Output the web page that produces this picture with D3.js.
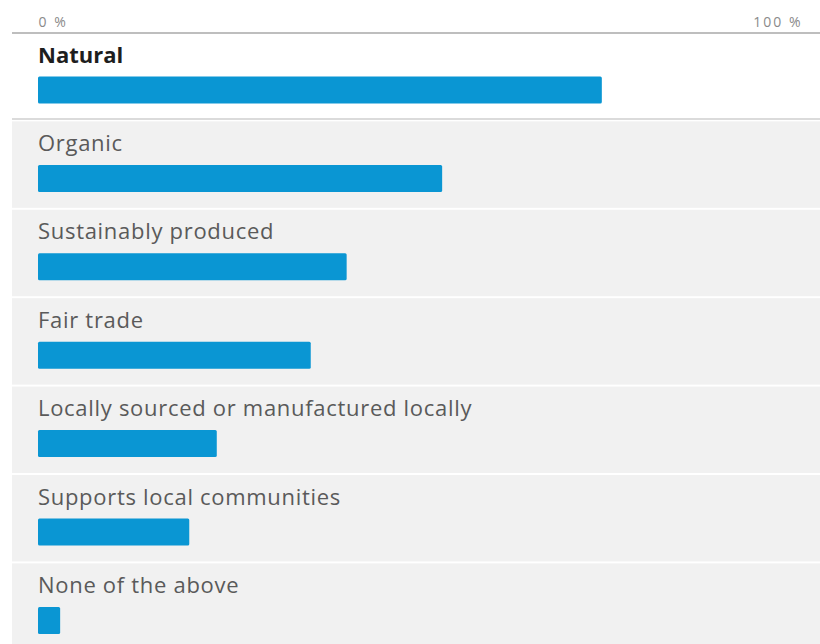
<!DOCTYPE html>
<html>
<head>
<meta charset="utf-8">
<script src="https://cdn.jsdelivr.net/npm/d3@7"></script>
<style>
  html, body { margin: 0; padding: 0; background: #ffffff; }
  svg { display: block; }
</style>
</head>
<body>
<svg id="chart" width="820" height="644"></svg>
<script>
// Answer options and share of respondents (%)
const categories = [
  "Natural",
  "Organic",
  "Sustainably produced",
  "Fair trade",
  "Locally sourced or manufactured locally",
  "Supports local communities",
  "None of the above"
];
const values = [73.8, 52.9, 40.4, 35.7, 23.4, 19.8, 2.9];
const tickValues = [0, 100];
const tickLabels = ["0 %", "100 %"];

const W = 820, H = 644;
const svg = d3.select("#chart");

const x = d3.scaleLinear().domain([0, 100]).range([38, 802]);
const rowPitch = 88.4;
const y = d3.scaleBand()
  .domain(categories)
  .range([31, 31 + rowPitch * categories.length])
  .paddingInner(0).paddingOuter(0);

const rowLeft = 12;
const barH = 27;
const barColor = "#0a96d3";
const labelFont = "'Open Sans', Lato, sans-serif";

// Row backgrounds: first row highlighted white, the rest light grey with white gaps
const rows = svg.append("g").attr("class", "rows");
rows.selectAll("rect.row")
  .data(categories)
  .join("rect")
  .attr("class", "row")
  .attr("x", rowLeft)
  .attr("y", (d, i) => i === 0 ? 33 : y(d) + 2)
  .attr("width", W - rowLeft)
  .attr("height", y.bandwidth() - 2)
  .attr("fill", (d, i) => i === 0 ? "#ffffff" : "#f1f1f1");

// thin rule under the highlighted first row
rows.append("line")
  .attr("x1", rowLeft).attr("x2", W)
  .attr("y1", y(categories[1]) - 0.5).attr("y2", y(categories[1]) - 0.5)
  .attr("stroke", "#cfcfcf").attr("stroke-width", 1.5);

// Top axis with percentage end labels
const axis = d3.axisTop(x)
  .tickValues(tickValues)
  .tickSize(0)
  .tickPadding(6)
  .tickFormat((d, i) => tickLabels[i]);

const gAxis = svg.append("g")
  .attr("transform", "translate(0,33)")
  .call(axis);
gAxis.select(".domain")
  .attr("d", `M${rowLeft},0H${W}`)
  .attr("stroke", "#a8a8a8")
  .attr("stroke-width", 1.5);
gAxis.selectAll(".tick text")
  .attr("font-family", labelFont)
  .attr("font-size", 14)
  .attr("letter-spacing", 2)
  .attr("fill", "#8a8a8a")
  .attr("text-anchor", (d, i) => i === 0 ? "start" : "end");

// Category labels
svg.append("g").attr("class", "labels")
  .selectAll("text")
  .data(categories)
  .join("text")
  .attr("x", x(0))
  .attr("y", d => y(d) + 31.5)
  .attr("font-family", labelFont)
  .attr("font-size", 22)
  .attr("letter-spacing", (d, i) => i === 0 ? 0 : 0.7)
  .attr("font-weight", (d, i) => i === 0 ? 700 : 400)
  .attr("fill", (d, i) => i === 0 ? "#1e1e1e" : "#5a5a5a")
  .text(d => d);

// Bars
svg.append("g").attr("class", "bars")
  .selectAll("rect")
  .data(values)
  .join("rect")
  .attr("x", x(0))
  .attr("y", (d, i) => y(categories[i]) + 45.5)
  .attr("width", d => x(d) - x(0))
  .attr("height", barH)
  .attr("rx", 1.5)
  .attr("fill", barColor);
</script>
</body>
</html>
